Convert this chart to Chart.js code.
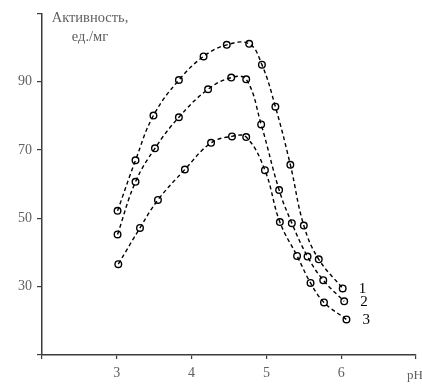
<!DOCTYPE html>
<html>
<head>
<meta charset="utf-8">
<script src="https://cdn.jsdelivr.net/npm/chart.js@4/dist/chart.umd.min.js"></script>
<style>
    html, body { margin: 0; padding: 0; background: #ffffff; }
    #wrap { width: 422px; height: 385px; }
</style>
</head>
<body>
<div id="wrap"><canvas id="activityChart" width="422" height="385"></canvas></div>
<script>
// pH values and activity (units/mg) for the three curves
const phSeries1 = [3.01, 3.25, 3.49, 3.83, 4.16, 4.47, 4.77, 4.94, 5.12, 5.32, 5.50, 5.70, 6.02];
const actSeries1 = [52.2, 67.0, 80.1, 90.5, 97.4, 100.8, 101.1, 95.0, 82.7, 65.7, 47.9, 38.0, 29.5];

const phSeries2 = [3.01, 3.25, 3.51, 3.83, 4.22, 4.53, 4.73, 4.93, 5.17, 5.34, 5.55, 5.76, 6.04];
const actSeries2 = [45.3, 60.7, 70.5, 79.6, 87.8, 91.2, 90.7, 77.5, 58.3, 48.6, 38.8, 31.9, 25.7];

const phSeries3 = [3.02, 3.31, 3.55, 3.91, 4.26, 4.54, 4.73, 4.98, 5.18, 5.41, 5.59, 5.77, 6.07];
const actSeries3 = [36.6, 47.2, 55.4, 64.3, 72.1, 74.0, 73.8, 64.1, 48.9, 39.0, 31.1, 25.4, 20.4];

const seriesNames = ["1", "2", "3"];
const xTickLabels = { 3: "3", 4: "4", 5: "5", 6: "6" };
const yTickLabels = { 30: "30", 50: "50", 70: "70", 90: "90" };
const yTitleLines = ["Активность,", "ед./мг"];
const xTitle = "pH";

const serif = "'Liberation Serif', 'Times New Roman', serif";
const axisColor = "#3c3c3c";
const textColor = "#606060";

function toPoints(xs, ys) {
    return xs.map((x, i) => ({ x: x, y: ys[i] }));
}

function makeDataset(label, xs, ys) {
    return {
        label: label,
        data: toPoints(xs, ys),
        borderColor: "#000000",
        borderWidth: 1.4,
        borderDash: [4, 3],
        tension: 0.4,
        fill: false,
        pointRadius: 3.3,
        pointBorderWidth: 1.4,
        pointBorderColor: "#000000",
        pointBackgroundColor: "rgba(255,255,255,0)",
        pointStyle: "circle",
    };
}

// Draws the axis captions and the curve numbers
const annotations = {
    id: "annotations",
    afterDatasetsDraw(chart) {
        const ctx = chart.ctx;
        ctx.save();
        ctx.font = "14.5px " + serif;
        ctx.fillStyle = textColor;
        ctx.textAlign = "center";
        ctx.textBaseline = "middle";
        ctx.fillText(yTitleLines[0], 90, 18);
        ctx.fillText(yTitleLines[1], 90, 37);

        ctx.font = "13px " + serif;
        ctx.textAlign = "left";
        ctx.fillText(xTitle, 407, 376);

        ctx.font = "15px " + serif;
        ctx.fillStyle = "#000000";
        chart.data.datasets.forEach((ds, i) => {
            const meta = chart.getDatasetMeta(i);
            const last = meta.data[meta.data.length - 1];
            ctx.fillText(seriesNames[i], last.x + 16, last.y + 1);
        });
        ctx.restore();
    },
};

let activityChart;

function initChart() {
    const ctx = document.getElementById("activityChart").getContext("2d");
    activityChart = new Chart(ctx, {
        type: "line",
        data: {
            datasets: [
                makeDataset(seriesNames[0], phSeries1, actSeries1),
                makeDataset(seriesNames[1], phSeries2, actSeries2),
                makeDataset(seriesNames[2], phSeries3, actSeries3),
            ],
        },
        options: {
            responsive: false,
            animation: false,
            layout: { autoPadding: false, padding: { top: 9, right: 3, left: 0, bottom: 0 } },
            plugins: {
                legend: { display: false },
                tooltip: { enabled: false },
            },
            scales: {
                x: {
                    type: "linear",
                    min: 2,
                    max: 7,
                    border: { display: true, color: axisColor, width: 1.5 },
                    grid: { drawOnChartArea: false, drawTicks: true, tickLength: 4, color: axisColor, lineWidth: 1.2 },
                    ticks: {
                        stepSize: 1,
                        color: textColor,
                        font: { family: serif, size: 14 },
                        padding: 6,
                        maxRotation: 0,
                        callback: (v) => xTickLabels[v] || "",
                    },
                    afterFit: (scale) => { scale.height = 30; },
                },
                y: {
                    min: 10,
                    max: 110,
                    border: { display: true, color: axisColor, width: 1.5 },
                    grid: { drawOnChartArea: false, drawTicks: true, tickLength: 5, color: axisColor, lineWidth: 1.2 },
                    ticks: {
                        stepSize: 20,
                        color: textColor,
                        font: { family: serif, size: 14 },
                        padding: 5,
                        callback: (v) => yTickLabels[v] || "",
                    },
                    afterFit: (scale) => { scale.width = 42; },
                },
            },
        },
        plugins: [annotations],
    });
}

document.addEventListener("DOMContentLoaded", initChart);
</script>
</body>
</html>
